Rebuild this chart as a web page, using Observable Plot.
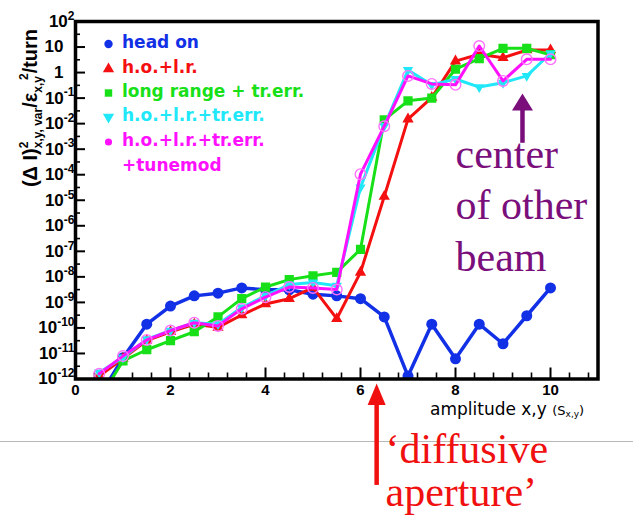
<!DOCTYPE html>
<html>
<head>
<meta charset="utf-8">
<script src="https://cdn.jsdelivr.net/npm/d3@7"></script>
<script src="https://cdn.jsdelivr.net/npm/@observablehq/plot@0.6"></script>
<style>
html,body{margin:0;padding:0;background:#fff;}
#chart{width:633px;height:521px;position:relative;}
</style>
</head>
<body>
<div id="chart"></div>
<script>
// ---------- data ----------
const amplitude = [0.5,1,1.5,2,2.5,3,3.5,4,4.5,5,5.5,6,6.5,7,7.5,8,8.5,9,9.5,10];
const headOn = [2e-13,6.8e-12,1.4e-10,7.2e-10,1.8e-9,2.3e-9,3.7e-9,3.1e-9,3.1e-9,2.1e-9,1.8e-9,1.4e-9,2.7e-10,1.3e-12,1.4e-10,6.2e-12,1.4e-10,2.4e-11,3.0e-10,3.7e-9];
const hoLr = [1.3e-12,6.3e-12,3.2e-11,7.1e-11,1.4e-10,1.05e-10,3.2e-10,8.7e-10,1.4e-9,3.8e-9,2.3e-10,1.5e-8,1.4e-5,1.5e-2,0.105,2.8,5.2,3.8,7.6,7.6];
const longRangeTrErr = [1.6e-13,5.1e-12,1.4e-11,3.2e-11,7.1e-11,2.7e-10,1.4e-9,4.0e-9,7.8e-9,1.1e-8,1.5e-8,1.2e-7,1.4e-2,7.8e-2,0.1,1.35,3.5,8.9,8.9,5.0];
const hoLrTrErr = [1.8e-12,6.9e-12,3.6e-11,7.8e-11,1.6e-10,1.4e-10,6.3e-10,1.8e-9,5.0e-9,6.0e-9,4.5e-9,3.2e-5,8.1e-3,1.26,0.33,0.56,0.27,0.4,0.74,5.6];
const hoLrTrErrTunemod = [1.6e-12,7.9e-12,3.4e-11,7.9e-11,1.6e-10,1.2e-10,5.6e-10,1.6e-9,4.0e-9,3.7e-9,3.2e-9,1.05e-4,7.9e-3,0.74,0.36,0.33,11,0.47,3.3,3.3];
const seriesNames = ["head on","h.o.+l.r.","long range + tr.err.","h.o.+l.r.+tr.err.","h.o.+l.r.+tr.err.|+tunemod"];

const xMajorTicks = [0,2,4,6,8,10];
const xMinorTicks = [0.4,0.8,1.2,1.6,2.4,2.8,3.2,3.6,4.4,4.8,5.2,5.6,6.4,6.8,7.2,7.6,8.4,8.8,9.2,9.6,10.4,10.8];
const yExponents = [-12,-11,-10,-9,-8,-7,-6,-5,-4,-3,-2,-1,0,1,2];

// annotations (amplitude, value levels)
const beamNote = ["center","of other","beam"];
const apertureNote = ["\u2018diffusive","aperture\u2019"];
const beamCenterArrow = [{amplitude:9.41, tip:0.15, base:0.033, tail:1.7e-3}];
const apertureArrow = [{amplitude:6.34, tip:6.7e-13, base:9.5e-14, tail:6.8e-17}];

// ---------- layout ----------
const W = 633, H = 521;
const mL = 75, mR = 35.5, mT = 21, mB = 142.5;
const frameW = W - mL - mR, frameH = H - mT - mB;

const yMajorTicks = yExponents.map(e => Math.pow(10, e));
const yMinorTicks = yExponents.slice(0, -1).map(e => Math.pow(10, e + 0.5));

const triangleDown = {draw(ctx, size){ const y = -Math.sqrt(size/(3*Math.sqrt(3))); const s = Math.sqrt(3); ctx.moveTo(0,-2*y); ctx.lineTo(-s*y, y); ctx.lineTo(s*y, y); ctx.closePath(); }};
const head = k => ({draw(ctx, size){ const r = Math.sqrt(size/Math.PI); ctx.moveTo(0,0); ctx.lineTo(-r, k*r); ctx.lineTo(r, k*r); ctx.closePath(); }});

const series = [
  {name: seriesNames[0], values: headOn, color:"#1230e6", symbol:"circle", r:5.5, width:3.5},
  {name: seriesNames[1], values: hoLr, color:"#f41010", symbol:"triangle", r:4.2, width:3},
  {name: seriesNames[2], values: longRangeTrErr, color:"#18e018", symbol:"square", r:5.2, width:3},
  {name: seriesNames[3], values: hoLrTrErr, color:"#20e8f8", symbol:triangleDown, r:3.8, width:3},
  {name: seriesNames[4], values: hoLrTrErrTunemod, color:"#ff10ff", symbol:"circle", r:5.3, width:3, open:true, markerStroke:"#ff70ff"}
];

const marks = [];
// ticks
marks.push(Plot.tickX(xMajorTicks, {x: d=>d, insetTop: frameH - 11, strokeWidth: 2, stroke:"#000"}));
marks.push(Plot.tickX(xMinorTicks, {x: d=>d, insetTop: frameH - 6, strokeWidth: 1.6, stroke:"#000"}));
marks.push(Plot.tickY(yMajorTicks, {y: d=>d, insetRight: frameW - 10, strokeWidth: 2, stroke:"#000"}));
marks.push(Plot.tickY(yMinorTicks, {y: d=>d, insetRight: frameW - 5, strokeWidth: 1.6, stroke:"#000"}));

for (const s of series) {
  const rows = amplitude.map((a,i) => ({amplitude:a, value:s.values[i]}));
  marks.push(Plot.line(rows, {x:"amplitude", y:"value", stroke:s.color, strokeWidth:s.width, clip:true}));
  marks.push(Plot.dot(rows, {x:"amplitude", y:"value", symbol:s.symbol, r:s.r,
    fill: s.open ? "none" : s.color, stroke: s.open ? s.markerStroke : "none", strokeWidth: 1.4, clip:true}));
}

marks.push(Plot.frame({stroke:"#000", strokeWidth:3.5}));

// axes
const expTicks = yMajorTicks.filter(v => v < 0.5 || v > 50);
const plainTicks = yMajorTicks.filter(v => v > 0.5 && v < 50);
const fmtY = d => { const e = Math.round(Math.log10(d)); return e === 0 ? "1" : e === 1 ? "10" : "10^" + e; };
marks.push(Plot.axisX(xMajorTicks, {tickSize:0, tickPadding:5, fontSize:15, fontWeight:"bold", fontFamily:"Liberation Sans", label:null, tickFormat:d=>String(d)}));
marks.push(Plot.axisY(expTicks, {tickSize:0, tickPadding:1, fontSize:17, fontWeight:"bold", fontFamily:"Liberation Sans", label:null, tickFormat:fmtY}));
marks.push(Plot.axisY(plainTicks, {tickSize:0, tickPadding:12, fontSize:17, fontWeight:"bold", fontFamily:"Liberation Sans", label:null, tickFormat:fmtY}));

// annotation arrows
for (const [arr, color, r, k] of [[beamCenterArrow, "#7a0f7c", 10.5, 1.62], [apertureArrow, "#f01010", 9, 2.4]]) {
  marks.push(Plot.ruleX(arr, {x:"amplitude", y1:"tail", y2:"base", stroke:color, strokeWidth:4.5}));
  marks.push(Plot.dot(arr, {x:"amplitude", y:"tip", symbol:head(k), r:r, fill:color, stroke:"none"}));
}
beamNote.forEach((t,i) => marks.push(Plot.text([t], {text:d=>d, frameAnchor:"top-left", dx:380, dy:146 + i*51.5, textAnchor:"start", lineAnchor:"bottom", fontSize:42, fontFamily:"Liberation Serif", fill:"#7a0f7c"})));
apertureNote.forEach((t,i) => marks.push(Plot.text([t], {text:d=>d, frameAnchor:"top-left", dx:310, dy:441 + i*43, textAnchor:"start", lineAnchor:"bottom", fontSize:42, fontFamily:"Liberation Serif", fill:"#f01010"})));

const svgEl = Plot.plot({
  width: W, height: H,
  marginLeft: mL, marginRight: mR, marginTop: mT, marginBottom: mB,
  x: {domain:[0,11]},
  y: {type:"log", domain:[1e-12, 1e2]},
  style: {background:"#fff", overflow:"visible"},
  marks
});
document.getElementById("chart").appendChild(svgEl);
const svg = d3.select(svgEl);

// superscript exponents on y tick labels
svg.selectAll('g[aria-label="y-axis tick label"] text').each(function(){
  const t = this.textContent; if (!t.includes("^")) return;
  const [b, e] = t.split("^");
  const s = d3.select(this); s.text(null);
  s.append("tspan").text(b);
  s.append("tspan").attr("font-size", 12).attr("dy", "-0.6em").text(e);
});

// slide separator line
svg.insert("line", ":first-child").attr("x1",0).attr("x2",W).attr("y1",441.5).attr("y2",441.5).attr("stroke","#b8b8b8").attr("stroke-width",1);

// y axis title
const yl = svg.append("text").attr("transform","translate(37,108) rotate(-90)").attr("text-anchor","middle")
  .attr("font-family","Liberation Sans").attr("font-weight","bold").attr("font-size",20).attr("fill","#000");
yl.append("tspan").text("(\u0394 I)");
yl.append("tspan").attr("font-size",12).attr("dy",-9).text("2");
yl.append("tspan").attr("font-size",12).attr("dx",-6.7).attr("dy",14).text("x,y, var");
yl.append("tspan").attr("dy",-5).text("/\u03b5");
yl.append("tspan").attr("font-size",12).attr("dy",5).text("x,y");
yl.append("tspan").attr("font-size",12).attr("dx",-4).attr("dy",-14).text("2");
yl.append("tspan").attr("dy",9).text("/turn");

// x axis title
const xl = svg.append("text").attr("x",430).attr("y",415).attr("text-anchor","start").attr("font-family","DejaVu Sans").attr("font-size",17).attr("fill","#000");
xl.append("tspan").text("amplitude x,y ");
xl.append("tspan").attr("font-size",13).text("(S");
xl.append("tspan").attr("font-size",9).attr("dy",2).text("x,y");
xl.append("tspan").attr("font-size",13).attr("dy",-2).text(")");

// legend
const legendBase = [48,73,97,121,146];
const lg = svg.append("g").attr("text-anchor","start").attr("font-family","DejaVu Sans").attr("font-weight","bold").attr("font-size",17);
series.forEach((s,i) => {
  const y = legendBase[i];
  const sym = typeof s.symbol === "string" ? {circle:d3.symbolCircle, triangle:d3.symbolTriangle, square:d3.symbolSquare}[s.symbol] : s.symbol;
  lg.append("path").attr("transform",`translate(108.5,${y-4})`).attr("d", d3.symbol(sym, s.open ? 40 : 55)())
    .attr("fill", s.color);
  const lines = s.name.split("|");
  lines.forEach((ln,j) => lg.append("text").attr("x",122).attr("y",y + j*24.5).attr("fill",s.color).text(ln));
});
</script>
</body>
</html>
